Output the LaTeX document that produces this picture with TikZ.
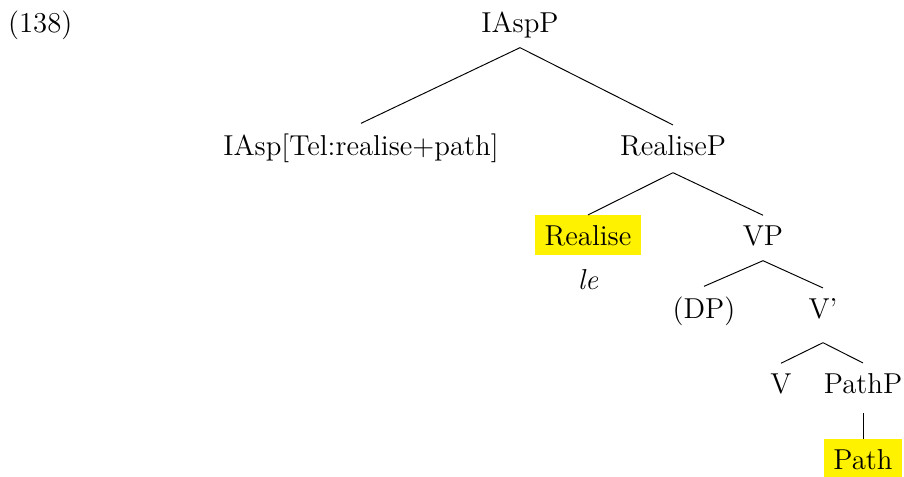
\documentclass[tikz,border=0pt]{standalone}
\usetikzlibrary{calc}
\begin{document}
\begin{tikzpicture}[x=0.4167pt, y=-0.4167pt,
    every node/.style={font=\fontsize{12}{14.5}\selectfont, anchor=base, inner sep=4pt},
    hl/.style={fill=yellow}]
  \useasboundingbox (0,0) rectangle (904,476);

  \node[anchor=base west] (ex) at (-2,32) {(138)};

  % tree labels
  \node (IAspP) at (520,32) {IAspP};
  \node (IAsp) at (361,155) {IAsp[Tel:realise+path]};
  \node (RealiseP) at (673,155) {RealiseP};
  \node[hl] (Realise) at (588,245) {Realise};
  \node (VP) at (763,245) {VP};
  \node (le) at (588,289) {\textit{le}};
  \node (DP) at (704,318) {(DP)};
  \node (Vbar) at (823,318) {V'};
  \node (V) at (781,393) {V};
  \node (PathP) at (863,393) {PathP};
  \node[hl] (Path) at (863,469) {Path};

  % branches
  \draw (IAspP.south) -- (IAsp.north);
  \draw (IAspP.south) -- (RealiseP.north);
  \draw ($(RealiseP.south)+(0,7)$) -- (Realise.north);
  \draw ($(RealiseP.south)+(0,7)$) -- (VP.north);
  \draw ($(VP.south)+(0,5)$) -- (DP.north);
  \draw ($(VP.south)+(0,5)$) -- (Vbar.north);
  \draw ($(Vbar.south)+(0,14)$) -- (V.north);
  \draw ($(Vbar.south)+(0,14)$) -- (PathP.north);
  \draw ($(PathP.south)+(0,10)$) -- (Path.north);
\end{tikzpicture}
\end{document}
